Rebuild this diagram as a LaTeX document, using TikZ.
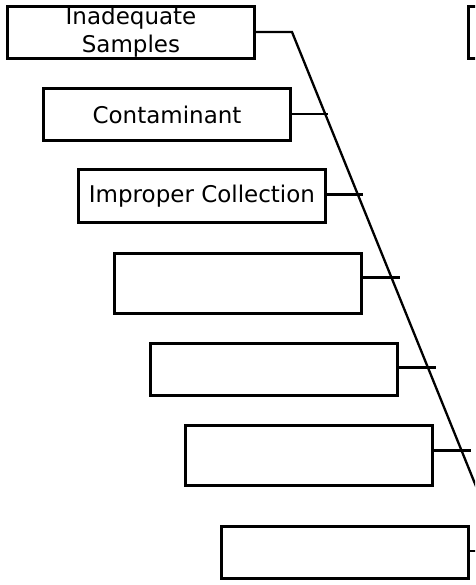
\documentclass[tikz,border=0pt]{standalone}
\usepackage{fontspec}
\setmainfont{DejaVu Sans}
\begin{document}
\begin{tikzpicture}[x=1pt, y=-1pt,
  causebox/.style={draw=black, line width=3pt, fill=white, minimum width=247pt,
    minimum height=52pt, inner sep=0pt, align=center,
    font=\fontsize{23}{28}\selectfont},
  tallbox/.style={causebox, minimum height=60pt},
  bone/.style={draw=black, line width=2.3pt}]
\useasboundingbox (0,0) rectangle (475,585);
\clip (0,0) rectangle (475,585);

% cause boxes
\node[causebox] (b1) at (131,32.5) {Inadequate\\Samples};
\node[causebox] (b2) at (167,114.5) {Contaminant};
\node[causebox] (b3) at (202,196) {Improper Collection};
\node[tallbox]  (b4) at (237.5,283) {};
\node[causebox] (b5) at (273.5,369) {};
\node[tallbox]  (b6) at (308.5,455) {};
\node[causebox] (b7) at (344.5,552.5) {};
\node[causebox] (b8) at (592,32.5) {};

% main diagonal bone
\coordinate (k1) at (292,32);
\coordinate (k2) at (516,585);
\draw[bone] (b1.east |- k1) -- (k1) -- (k2);

% branch ticks
\draw[bone] ([yshift=-27pt]b2.north east) -- ++(36,0);
\draw[bone] ([yshift=-26pt]b3.north east) -- ++(36,0);
\draw[bone] ([yshift=-26pt]b4.north east) -- ++(37,0);
\draw[bone] ([yshift=-26pt]b5.north east) -- ++(37,0);
\draw[bone] ([yshift=-27pt]b6.north east) -- ++(37,0);
\draw[bone] ([yshift=-26pt]b7.north east) -- ++(37,0);
\end{tikzpicture}
\end{document}
